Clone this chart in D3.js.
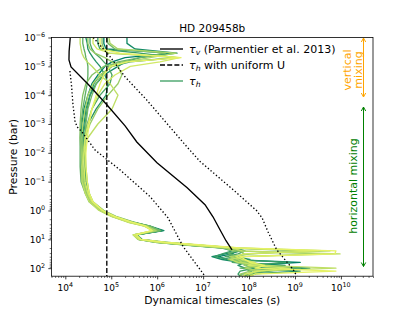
<!DOCTYPE html>
<html lang="en">
<head>
<meta charset="UTF-8">
<title>HD 209458b</title>
<script src="https://cdnjs.cloudflare.com/ajax/libs/d3/7.8.5/d3.min.js"></script>
<style>
    body { margin: 0; background: #fff; }
    svg { display: block; font-family: "DejaVu Sans", sans-serif; }
</style>
</head>
<body>
<svg id="chart" width="415" height="311"></svg>
<script>
    // pressure levels (bar) shared by all tau_h profiles
    const levels = [1e-6, 1.6e-6, 2.5e-6, 3.5e-6, 5e-6, 7e-6, 1e-5, 2e-5, 4e-5, 1e-4, 3e-4, 1e-3, 3e-3, 1e-2, 3e-2, 0.1,
        0.25, 0.5, 1, 1.6, 2.5, 3.5, 5, 7, 10, 12.6, 16, 20, 25, 32, 40, 50, 63, 80, 100, 126, 160, 190];

    // tau_h profiles (s), one per column of the colormap, dark green first
    const tauH = [
        [6.9e4, 6.9e4, 7.7e4, 2.2e6, 2.0e5, 1.04e5, 7.3e4, 5.1e4, 3.8e4, 3.1e4, 2.55e4, 2.3e4, 2.2e4, 2.3e4, 2.4e4, 2.55e4, 3.0e4, 3.6e4, 6.0e4, 1.1e5, 2.6e5, 6.3e5, 1.3e6, 3.6e5, 4.2e5, 1.15e6, 6.7e6, 3.5e7, 5.2e7, 4.3e7, 2.1e7, 3.5e7, 1.3e9, 1.05e8, 2.1e9, 1.9e8, 8.2e7, 7.4e7],
        [2.2e5, 2.2e5, 3.3e5, 2.7e6, 4.2e5, 2.0e5, 1.4e5, 6.9e4, 4.7e4, 3.45e4, 2.8e4, 2.55e4, 2.4e4, 2.55e4, 2.7e4, 2.8e4, 3.1e4, 3.8e4, 6.3e4, 1.15e5, 2.7e5, 7.0e5, 1.4e6, 3.5e5, 4.4e5, 1.3e6, 7.7e6, 4.3e7, 6.4e7, 3.0e7, 1.56e7, 2.6e7, 6.4e7, 6.1e8, 1.16e8, 1.3e9, 1.05e8, 8.6e7],
        [2.8e4, 3.0e4, 3.1e4, 3.45e4, 4.0e4, 4.7e4, 5.7e4, 7.3e4, 8.5e4, 7.7e4, 4.7e4, 3.1e4, 2.55e4, 2.55e4, 2.7e4, 2.7e4, 3.0e4, 3.6e4, 6.6e4, 1.15e5, 2.8e5, 6.6e5, 1.27e6, 3.3e5, 4.0e5, 1.04e6, 5.2e6, 3.0e7, 6.4e7, 3.85e7, 4.95e7, 1.05e8, 8.2e7, 5.75e7, 8.2e7, 1.05e8, 1.35e8, 9.5e7],
        [5.1e4, 5.1e4, 5.7e4, 4.2e5, 2.6e6, 2.6e5, 1.04e5, 5.7e4, 4.2e4, 3.45e4, 3.0e4, 2.7e4, 2.4e4, 2.3e4, 2.3e4, 2.4e4, 2.8e4, 3.45e4, 5.7e4, 1.04e5, 2.4e5, 6.0e5, 1.15e6, 3.3e5, 3.8e5, 9.0e5, 4.7e6, 2.6e7, 4.3e7, 2.6e7, 1.8e7, 3.85e7, 7.8e8, 8.2e7, 1.35e8, 6.4e7, 5.75e7, 6.4e7],
        [3.45e4, 3.45e4, 3.8e4, 4.4e4, 5.7e4, 6.9e4, 8.5e4, 1.04e5, 9.4e4, 5.7e4, 3.8e4, 3.0e4, 2.55e4, 2.3e4, 2.2e4, 2.3e4, 2.8e4, 3.45e4, 6.3e4, 1.15e5, 2.7e5, 7.0e5, 1.2e6, 3.6e5, 4.7e5, 1.5e6, 8.6e6, 5.0e7, 8.2e7, 5.75e7, 3.0e7, 8.2e7, 4.3e7, 1.9e8, 1.3e9, 2.9e8, 9.5e7, 8.2e7],
        [2.4e4, 2.4e4, 2.55e4, 2.7e4, 2.8e4, 3.0e4, 3.1e4, 3.1e4, 3.0e4, 2.7e4, 2.4e4, 2.2e4, 2.1e4, 2.1e4, 2.1e4, 2.2e4, 2.7e4, 3.3e4, 5.7e4, 1.1e5, 2.6e5, 6.3e5, 1.15e6, 3.1e5, 4.0e5, 1.04e6, 5.7e6, 3.15e7, 5.2e7, 3.5e7, 5.75e7, 4.3e7, 9.5e7, 2.9e8, 6.4e7, 2.2e8, 7.0e7, 6.4e7],
        [8.1e4, 8.5e4, 1.2e5, 1.5e6, 4.2e5, 1.4e5, 9.4e4, 6.3e4, 4.7e4, 3.8e4, 3.1e4, 2.8e4, 2.7e4, 2.7e4, 2.8e4, 3.0e4, 3.3e4, 4.0e4, 6.9e4, 1.27e5, 3.0e5, 7.0e5, 1.15e6, 3.5e5, 4.4e5, 1.3e6, 7.0e6, 3.85e7, 1.3e9, 1.05e8, 4.3e7, 6.4e7, 5.2e7, 1.05e8, 4.7e8, 1.35e8, 1.05e8, 8.6e7],
        [6.3e4, 6.3e4, 6.9e4, 8.5e4, 2.8e6, 1.7e5, 6.9e4, 3.8e4, 2.8e4, 2.4e4, 2.2e4, 2.1e4, 2.1e4, 2.2e4, 2.3e4, 2.4e4, 2.8e4, 3.45e4, 6.0e4, 1.1e5, 2.6e5, 5.7e5, 9.9e5, 3.1e5, 4.0e5, 1.15e6, 6.3e6, 3.5e7, 6.4e7, 7.8e7, 5.0e7, 3.5e7, 8.2e7, 1.6e8, 3.7e8, 9.5e7, 1.16e8, 1.05e8],
        [3.1e4, 3.1e4, 3.45e4, 4.4e4, 7.3e4, 1.04e5, 1.4e5, 1.7e5, 1.4e5, 8.5e4, 5.1e4, 3.45e4, 2.7e4, 2.4e4, 2.3e4, 2.4e4, 2.8e4, 3.45e4, 5.7e4, 1.04e5, 2.3e5, 5.4e5, 9.0e5, 3.0e5, 3.8e5, 9.4e5, 5.2e6, 2.85e7, 4.7e7, 3.5e9, 6.4e7, 5.2e7, 1.05e8, 7.8e7, 1.73e8, 1.05e8, 6.4e7, 7.0e7],
        [8.9e4, 9.4e4, 1.4e5, 2.6e6, 7.0e5, 2.0e5, 1.04e5, 5.7e4, 4.0e4, 3.1e4, 2.7e4, 2.4e4, 2.3e4, 2.3e4, 2.4e4, 2.55e4, 3.0e4, 3.6e4, 6.3e4, 1.15e5, 2.6e5, 6.0e5, 9.4e5, 3.1e5, 4.2e5, 1.27e6, 8.6e6, 5.75e7, 5.8e9, 9.5e7, 3.85e7, 5.75e7, 7.0e7, 1.42e8, 8.2e7, 1.73e8, 8.2e7, 7.8e7],
        [2.1e4, 2.1e4, 2.2e4, 2.3e4, 2.55e4, 3.0e4, 3.8e4, 5.7e4, 9.4e4, 1.4e5, 1.04e5, 5.1e4, 3.1e4, 2.55e4, 2.3e4, 2.3e4, 2.7e4, 3.3e4, 5.4e4, 9.9e4, 2.2e5, 5.2e5, 8.1e5, 3.0e5, 3.8e5, 1.04e6, 6.7e6, 4.3e7, 7.0e7, 9.6e9, 8.2e7, 3.85e7, 5.75e7, 1.9e8, 7.8e9, 1.35e8, 1.05e8, 9.0e7],
        [4.0e4, 4.0e4, 4.9e4, 9.4e4, 3.1e6, 1.15e6, 2.6e5, 1.2e5, 7.3e4, 5.1e4, 3.8e4, 3.1e4, 2.7e4, 2.55e4, 2.55e4, 2.7e4, 3.1e4, 3.8e4, 6.3e4, 1.1e5, 2.4e5, 5.4e5, 7.7e5, 3.1e5, 4.2e5, 1.15e6, 7.7e6, 5.2e7, 3.2e9, 7.8e7, 5.2e7, 7.0e7, 1.35e8, 9.5e7, 7.8e8, 1.57e8, 8.2e7, 7.4e7],
        [5.7e4, 5.7e4, 6.3e4, 1.55e5, 3.3e6, 2.3e5, 9.4e4, 6.9e4, 5.7e4, 4.7e4, 3.8e4, 3.3e4, 3.0e4, 2.8e4, 2.8e4, 3.0e4, 3.3e4, 4.0e4, 6.6e4, 1.2e5, 2.7e5, 5.7e5, 7.7e5, 3.5e5, 4.4e5, 1.5e6, 1.1e7, 6.4e7, 7.8e9, 7.4e9, 6.4e7, 8.2e7, 1.05e8, 2.2e8, 1.35e8, 7.8e9, 1.35e8, 1.05e8]
    ];

    // tau_v from Parmentier et al. 2013 (solid)
    const tauVPressure = [1e-6, 3e-6, 6e-6, 1.05e-5, 4.1e-5, 2.2e-4, 1.16e-3, 4.2e-3, 2.2e-2, 0.163, 0.63, 1.65, 4.66, 11.2, 23];
    const tauV = [1.28e4, 1.21e4, 1.2e4, 1.33e4, 3.1e4, 8.1e4, 2.0e5, 3.6e5, 9.9e5, 4.5e6, 1.1e7, 1.64e7, 2.33e7, 3.15e7, 4.26e7];

    // dotted bounds
    const lowPressure = [1.45e-5, 4.4e-5, 2.2e-4, 7.8e-4, 1.26e-3, 1.87e-3, 7.9e-3, 3.9e-2, 0.33, 1.8, 17.6, 190];
    const lowTau = [1.26e4, 1.36e4, 1.47e4, 1.62e4, 1.8e4, 2.3e4, 4.4e4, 1.55e5, 7.0e5, 1.72e6, 3.65e6, 1.1e7];
    const highPressure = [1e-6, 4.6e-6, 2.3e-5, 1.46e-4, 9.4e-4, 6.1e-3, 2.0e-2, 0.19, 1.02, 1.8, 5.5, 23, 113, 190];
    const highTau = [4.06e4, 9.4e4, 1.99e5, 5.9e5, 1.61e6, 4.4e6, 8.6e6, 4.5e7, 1.47e8, 1.92e8, 2.59e8, 4.0e8, 9.2e8, 1.1e9];

    // tau_h with uniform U (dashed)
    const uniformTau = 8e4;

    // tick exponents
    const xExponents = [4, 5, 6, 7, 8, 9, 10];
    const yExponents = [-6, -5, -4, -3, -2, -1, 0, 1, 2];

    const legendLabels = [
        {sym: "v", rest: " (Parmentier et al. 2013)"},
        {sym: "h", rest: " with uniform U"},
        {sym: "h", rest: ""}
    ];

    // layout
    const padL = 51.5, padR = 373, padT = 37.5, padB = 276.2;

    const x = d3.scaleLog().domain([5e3, 5e10]).range([padL, padR]);
    const y = d3.scaleLog().domain([1e-6, 190]).range([padT, padB]);
    const summer = d3.interpolateRgb("#008066", "#ffff66");

    const svg = d3.select("#chart");
    svg.append("rect").attr("width", 415).attr("height", 311).attr("fill", "#fff");

    svg.append("defs").append("clipPath").attr("id", "clip")
        .append("rect")
        .attr("x", padL).attr("y", padT)
        .attr("width", padR - padL).attr("height", padB - padT);

    const plot = svg.append("g").attr("clip-path", "url(#clip)");
    const line = d3.line().x(d => x(d[0])).y(d => y(d[1]));

    tauH.forEach((profile, i) => {
        plot.append("path")
            .datum(profile.map((t, j) => [t, levels[j]]))
            .attr("d", line)
            .attr("fill", "none")
            .attr("stroke", summer(0.9 * i / (tauH.length - 1)))
            .attr("stroke-width", 1.35)
            .attr("stroke-linejoin", "round");
    });

    plot.append("path")
        .datum(tauV.map((t, j) => [t, tauVPressure[j]]))
        .attr("d", line)
        .attr("fill", "none").attr("stroke", "#000").attr("stroke-width", 1.35);

    plot.append("path")
        .datum([[uniformTau, 1e-6], [uniformTau, 190]])
        .attr("d", line)
        .attr("fill", "none").attr("stroke", "#000").attr("stroke-width", 1.35)
        .attr("stroke-dasharray", "5,2.2");

    [[lowTau, lowPressure], [highTau, highPressure]].forEach(([taus, ps]) => {
        plot.append("path")
            .datum(taus.map((t, j) => [t, ps[j]]))
            .attr("d", line)
            .attr("fill", "none").attr("stroke", "#000").attr("stroke-width", 1.35)
            .attr("stroke-dasharray", "1.35,2.2");
    });

    // axes
    const minor = (lo, hi) => {
        const out = [];
        for (let k = Math.floor(Math.log10(lo)); k <= Math.ceil(Math.log10(hi)); k++) {
            for (let m = 2; m <= 9; m++) {
                const v = m * Math.pow(10, k);
                if (v >= lo && v <= hi) out.push(v);
            }
        }
        return out;
    };

    function styleAxis(g) {
        g.select(".domain").remove();
        g.selectAll("line").attr("stroke", "#000");
    }

    svg.append("g").attr("transform", `translate(0,${padB})`)
        .call(d3.axisBottom(x).tickValues(xExponents.map(e => Math.pow(10, e))).tickSize(3.2).tickFormat(""))
        .call(styleAxis).selectAll("line").attr("stroke-width", 0.75);
    svg.append("g").attr("transform", `translate(0,${padB})`)
        .call(d3.axisBottom(x).tickValues(minor(5e3, 5e10)).tickSize(1.8).tickFormat(""))
        .call(styleAxis).selectAll("line").attr("stroke-width", 0.55);
    svg.append("g").attr("transform", `translate(${padL},0)`)
        .call(d3.axisLeft(y).tickValues(yExponents.map(e => Math.pow(10, e))).tickSize(3.2).tickFormat(""))
        .call(styleAxis).selectAll("line").attr("stroke-width", 0.75);
    svg.append("g").attr("transform", `translate(${padL},0)`)
        .call(d3.axisLeft(y).tickValues(minor(1e-6, 190)).tickSize(1.8).tickFormat(""))
        .call(styleAxis).selectAll("line").attr("stroke-width", 0.55);

    const sup = e => String(e).replace("-", "\u2212");

    xExponents.forEach(e => {
        const t = svg.append("text")
            .attr("x", x(Math.pow(10, e))).attr("y", 291)
            .attr("text-anchor", "middle").attr("font-size", 9);
        t.append("tspan").text("10");
        t.append("tspan").attr("dy", -4).attr("font-size", 6.4).text(sup(e));
    });

    yExponents.forEach(e => {
        const t = svg.append("text")
            .attr("x", 45.2).attr("y", y(Math.pow(10, e)) + 3.4)
            .attr("text-anchor", "end").attr("font-size", 9);
        t.append("tspan").text("10");
        t.append("tspan").attr("dy", -4).attr("font-size", 6.4).text(sup(e));
    });

    svg.append("rect")
        .attr("x", padL).attr("y", padT)
        .attr("width", padR - padL).attr("height", padB - padT)
        .attr("fill", "none").attr("stroke", "#000").attr("stroke-width", 0.8);

    // titles
    svg.append("text").attr("x", (padL + padR) / 2).attr("y", 31.5)
        .attr("text-anchor", "middle").attr("font-size", 10.5).text("HD 209458b");
    svg.append("text").attr("x", (padL + padR) / 2).attr("y", 304)
        .attr("text-anchor", "middle").attr("font-size", 10.8).text("Dynamical timescales (s)");
    svg.append("text").attr("transform", `translate(17,${(padT + padB) / 2}) rotate(-90)`)
        .attr("text-anchor", "middle").attr("font-size", 10.8).text("Pressure (bar)");

    // legend
    const legend = svg.append("g");
    const handles = [
        {stroke: "#000", dash: null},
        {stroke: "#000", dash: "5,2.2"},
        {stroke: summer(0.25), dash: null}
    ];
    legendLabels.forEach((d, i) => {
        const ly = 49 + i * 16;
        legend.append("line")
            .attr("x1", 160).attr("x2", 183).attr("y1", ly).attr("y2", ly)
            .attr("stroke", handles[i].stroke).attr("stroke-width", 1.35)
            .attr("stroke-dasharray", handles[i].dash);
        const t = legend.append("text").attr("x", 189).attr("y", ly + 4).attr("font-size", 11);
        t.append("tspan").attr("font-style", "italic").text("\u03c4");
        t.append("tspan").attr("font-style", "italic").attr("font-size", 7.7).attr("dy", 2).text(d.sym);
        t.append("tspan").attr("dy", -2).text(d.rest);
    });

    // mixing annotations
    function arrow(x0, y0, y1, colour) {
        const g = svg.append("g").attr("stroke", colour).attr("fill", "none").attr("stroke-width", 1);
        g.append("line").attr("x1", x0).attr("x2", x0).attr("y1", y0).attr("y2", y1);
        g.append("path").attr("d", `M${x0 - 2.2},${y0 + 4}L${x0},${y0}L${x0 + 2.2},${y0 + 4}`);
        g.append("path").attr("d", `M${x0 - 2.2},${y1 - 4}L${x0},${y1}L${x0 + 2.2},${y1 - 4}`);
    }

    arrow(363.5, 38, 97, "orange");
    arrow(363.5, 107, 266.5, "green");

    svg.append("text").attr("transform", "translate(350.5,70) rotate(-90)")
        .attr("text-anchor", "middle").attr("font-size", 11).attr("fill", "orange").text("vertical");
    svg.append("text").attr("transform", "translate(361.5,70) rotate(-90)")
        .attr("text-anchor", "middle").attr("font-size", 11).attr("fill", "orange").text("mixing");
    svg.append("text").attr("transform", "translate(356.5,186) rotate(-90)")
        .attr("text-anchor", "middle").attr("font-size", 11).attr("fill", "green").text("horizontal mixing");
</script>
</body>
</html>
